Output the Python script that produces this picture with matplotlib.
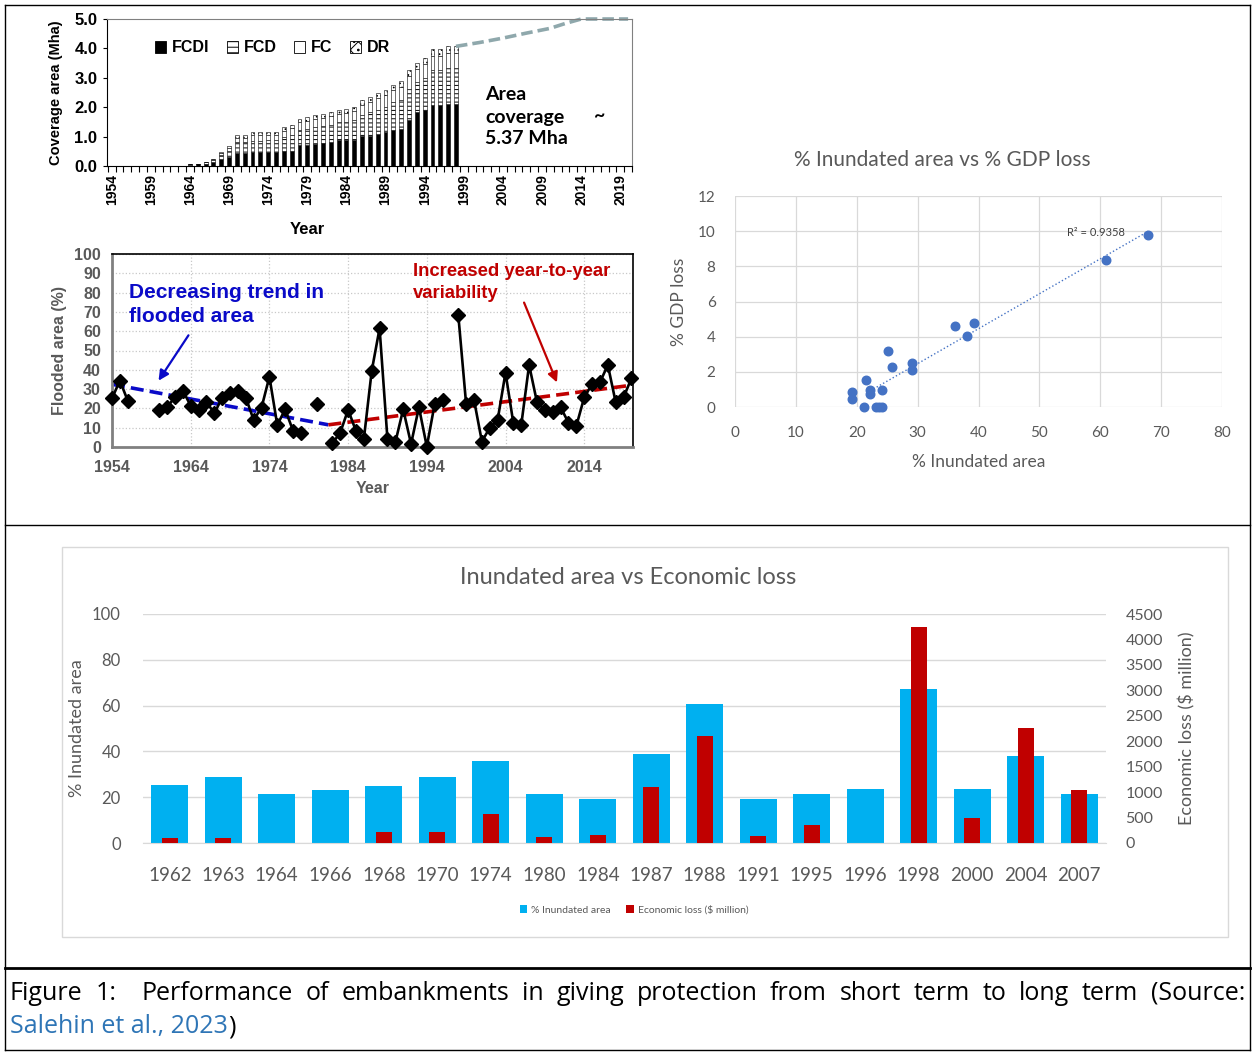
import numpy as np
import matplotlib
matplotlib.use("Agg")
import matplotlib.pyplot as plt
from matplotlib.lines import Line2D
from matplotlib.patches import Rectangle, Patch, FancyArrowPatch

W, H, DPI = 1255, 1054, 100
plt.rcParams['hatch.linewidth'] = 0.7

# ---------------- data ----------------
# Embankment coverage by project type (Mha)
cov_years = np.arange(1964, 1999)
fcdi = [0.04, 0.06, 0.08, 0.14, 0.25, 0.30, 0.45, 0.45, 0.46, 0.46, 0.47, 0.47, 0.50, 0.52, 0.72,
        0.72, 0.74, 0.77, 0.80, 0.88, 0.89, 0.89, 1.02, 1.02, 1.09, 1.17, 1.23, 1.25, 1.57, 1.85,
        1.91, 2.07, 2.07, 2.12, 2.11]
fcd = [0.02, 0.02, 0.04, 0.06, 0.12, 0.22, 0.35, 0.35, 0.40, 0.40, 0.41, 0.40, 0.48, 0.52, 0.52,
       0.55, 0.58, 0.58, 0.60, 0.60, 0.61, 0.66, 0.72, 0.80, 0.83, 0.85, 0.93, 1.00, 1.05, 1.02,
       1.10, 1.20, 1.20, 1.22, 1.24]
fc = [0, 0, 0, 0.04, 0.06, 0.10, 0.16, 0.16, 0.18, 0.18, 0.18, 0.18, 0.22, 0.24, 0.24,
      0.25, 0.27, 0.28, 0.29, 0.29, 0.30, 0.32, 0.35, 0.37, 0.38, 0.39, 0.41, 0.43, 0.43, 0.43,
      0.45, 0.47, 0.48, 0.49, 0.50]
dr = [0, 0, 0, 0, 0.03, 0.06, 0.10, 0.10, 0.10, 0.10, 0.11, 0.11, 0.12, 0.12, 0.12,
      0.13, 0.14, 0.14, 0.14, 0.14, 0.14, 0.15, 0.16, 0.17, 0.18, 0.18, 0.19, 0.20, 0.20, 0.20,
      0.22, 0.24, 0.24, 0.24, 0.24]
proj_years = [1998, 2001, 2004, 2007, 2010, 2012, 2014, 2020]
proj_area = [4.07, 4.20, 4.35, 4.52, 4.68, 4.85, 5.00, 5.00]
cov_label_years = list(range(1954, 2020, 5))

# Flooded area (%) per year, gaps where no record
flood_years = np.arange(1954, 2021)
flood_pct = np.array([
    25.2, 34.4, 24.0, None, None, None, 19.2, 20.5, 26.0, 29.2,
    21.4, 19.2, 23.5, 17.4, 25.6, 28.2, 29.2, 25.6, 14.0, 20.4,
    36.4, 11.4, 19.5, 8.5, 7.1, None, 22.1, None, 1.9, 7.4,
    19.3, 8.3, 4.1, 39.4, 61.5, 4.1, 2.4, 19.5, 1.6, 20.6,
    0.2, 22.3, 24.4, None, 68.4, 22.1, 24.4, 2.8, 10.0, 14.0,
    38.5, 12.3, 11.4, 42.5, 23.2, 19.2, 18.0, 20.6, 12.6, 10.9,
    25.7, 32.6, 33.5, 42.5, 23.2, 25.7, 35.6], dtype=float)
trend_dec_x = [1954, 1981.5]
trend_dec_y = [32.5, 11.5]
trend_inc_x = [1981.5, 2020]
trend_inc_y = [11.5, 32.0]

# % inundated area vs % GDP loss
inund_pts = [67.9, 60.9, 36.2, 39.2, 38.1, 25.1, 25.8, 29.1, 29.1, 21.6,
             24.2, 22.1, 22.1, 19.2, 19.2, 21.2, 23.2, 24.2, 23.6]
gdp_loss = [9.77, 8.34, 4.61, 4.80, 4.04, 3.20, 2.25, 2.51, 2.13, 1.52,
            0.99, 0.95, 0.76, 0.86, 0.48, 0.02, 0.0, 0.0, 0.02]

# Inundated area vs economic loss for flood events
events = ['1962', '1963', '1964', '1966', '1968', '1970', '1974', '1980', '1984',
          '1987', '1988', '1991', '1995', '1996', '1998', '2000', '2004', '2007']
inund_area = [25.5, 28.9, 21.2, 23.1, 25.1, 28.9, 35.8, 21.6, 19.3,
              39.0, 60.9, 19.3, 21.6, 23.6, 67.2, 23.6, 37.9, 21.2]
econ_loss = [100, 100, 0, 0, 215, 215, 574, 117, 150,
             1100, 2100, 130, 346, 0, 4240, 496, 2257, 1044]

# ---------------- helpers ----------------
fig = plt.figure(figsize=(W / DPI, H / DPI), dpi=DPI)
fig.patch.set_facecolor('white')


def frac(x0, y0, x1, y1):
    return [x0 / W, 1 - y1 / H, (x1 - x0) / W, (y1 - y0) / H]


def fline(x0, y0, x1, y1, lw=1.0, color='black'):
    fig.add_artist(Line2D([x0 / W, x1 / W], [1 - y0 / H, 1 - y1 / H],
                          transform=fig.transFigure, lw=lw, color=color))


def ftext(x, y, s, **kw):
    return fig.text(x / W, 1 - y / H, s, **kw)


ARIAL = 'Liberation Sans'
CAL = 'Lato'
GRAY = '#595959'

# page frame
fline(5, 5, 1250, 5)
fline(5, 5, 5, 1050)
fline(1250, 5, 1250, 1050)
fline(5, 1050, 1250, 1050)
fline(5, 525, 1250, 525)
fline(5, 968, 1250, 968, lw=2)
fig.add_artist(Rectangle((62 / W, 1 - 937 / H), (1228 - 62) / W, (937 - 547) / H,
                         transform=fig.transFigure, fill=False, edgecolor='#d9d9d9', lw=1))

# ---------------- coverage chart ----------------
ax1 = fig.add_axes(frac(107, 19, 632, 166))
bw = 0.5
base = np.zeros(len(cov_years))
ax1.bar(cov_years, fcdi, bw, color='black', edgecolor='black', lw=0.4)
base += np.array(fcdi)
ax1.bar(cov_years, fcd, bw, bottom=base, color='white', edgecolor='black', lw=0.4, hatch='----')
base += np.array(fcd)
ax1.bar(cov_years, fc, bw, bottom=base, color='white', edgecolor='black', lw=0.4)
base += np.array(fc)
ax1.bar(cov_years, dr, bw, bottom=base, color='white', edgecolor='black', lw=0.4, hatch='....')
ax1.plot(proj_years, proj_area, color='#8FA8AC', lw=2.6, dashes=(3.2, 1.4), clip_on=False)
ax1.set_xlim(1953.4, 2020.2)
ax1.set_ylim(0, 5)
ax1.set_xticks(np.arange(1953.5, 2020.6, 1.0))
ax1.set_xticklabels([])
ax1.tick_params(axis='x', which='major', length=4, width=0.8, direction='out')
ax1.set_xticks(cov_label_years, minor=True)
ax1.set_xticklabels([str(y) for y in cov_label_years], minor=True, rotation=90,
                    fontweight='bold', fontsize=10, family=ARIAL)
ax1.tick_params(axis='x', which='minor', length=0, pad=6)
ax1.set_yticks(np.arange(0, 5.01, 1))
ax1.set_yticklabels([f'{v:.1f}' for v in np.arange(0, 5.01, 1)], fontweight='bold',
                    fontsize=12, family=ARIAL)
ax1.tick_params(axis='y', length=3, width=0.8, pad=4)
for s in ('left', 'bottom'):
    ax1.spines[s].set_color('black')
for s in ('top', 'right'):
    ax1.spines[s].set_color('#808080')
ax1.set_ylabel('Coverage area (Mha)', fontweight='bold', fontsize=10.5, family=ARIAL, labelpad=8)
ftext(307, 230, 'Year', ha='center', va='center', fontweight='bold', fontsize=12, family=ARIAL)
handles = [Patch(facecolor='black', edgecolor='black', lw=0.6),
           Patch(facecolor='white', edgecolor='black', hatch='---', lw=0.6),
           Patch(facecolor='white', edgecolor='black', lw=0.6),
           Patch(facecolor='white', edgecolor='black', hatch='xx..', lw=0.6)]
ax1.legend(handles, ['FCDI', 'FCD', 'FC', 'DR'], ncol=4, frameon=False, loc='center left',
           bbox_to_anchor=((155 - 107) / 525, (166 - 48) / 147), borderaxespad=0, borderpad=0,
           handlelength=0.7, handleheight=0.7, handletextpad=0.35, columnspacing=1.1,
           prop={'family': ARIAL, 'weight': 'bold', 'size': 11.5})
for i, s in enumerate(['Area', 'coverage', '5.37 Mha']):
    ftext(485, 95 + 22 * i, s, ha='left', va='center', fontsize=14, fontweight='bold', family=CAL)
ftext(600, 116, '~', ha='center', va='center', fontsize=14, fontweight='bold', family=CAL)

# ---------------- flooded area chart ----------------
ax2 = fig.add_axes(frac(112, 254, 633, 447))
ax2.set_xlim(1954, 2020.2)
ax2.set_ylim(0, 100)
ax2.set_xticks(range(1954, 2021, 10))
ax2.set_yticks(range(0, 101, 10))
ax2.grid(True, ls=':', color='#c8c8c8', lw=0.9)
ax2.set_axisbelow(True)
ax2.plot(trend_dec_x, trend_dec_y, color='#0A0AC8', lw=2.6, dashes=(3.6, 1.7), clip_on=False, zorder=2)
ax2.plot(trend_inc_x, trend_inc_y, color='#C00000', lw=2.6, dashes=(3.6, 1.7), clip_on=False, zorder=2)
ax2.plot(flood_years, flood_pct, color='black', lw=1.9, marker='D', ms=7.5, zorder=3, clip_on=False)
ax2.tick_params(length=0, labelcolor=GRAY)
ax2.tick_params(axis='y', pad=8)
ax2.tick_params(axis='x', pad=9)
for lab in ax2.get_xticklabels() + ax2.get_yticklabels():
    lab.set_fontweight('bold'); lab.set_fontsize(11.5); lab.set_family(ARIAL)
for s in ('left', 'bottom'):
    ax2.spines[s].set_color('#808080'); ax2.spines[s].set_linewidth(2)
for s in ('top', 'right'):
    ax2.spines[s].set_color('black'); ax2.spines[s].set_linewidth(1.2)
ax2.set_ylabel('Flooded area (%)', color=GRAY, fontweight='bold', fontsize=11.5, family=ARIAL, labelpad=5)
ax2.set_xlabel('Year', color=GRAY, fontweight='bold', fontsize=11.5, family=ARIAL, labelpad=5)
ftext(129, 292, 'Decreasing trend in', color='#0A0AC8', fontweight='bold', fontsize=15,
      family=ARIAL, va='center', ha='left')
ftext(129, 317, 'flooded area', color='#0A0AC8', fontweight='bold', fontsize=15,
      family=ARIAL, va='center', ha='left')
ftext(413, 272, 'Increased year-to-year', color='#C00000', fontweight='bold', fontsize=13.3,
      family=ARIAL, va='center', ha='left')
ftext(413, 294, 'variability', color='#C00000', fontweight='bold', fontsize=13.3,
      family=ARIAL, va='center', ha='left')
fig.add_artist(FancyArrowPatch(
    (190 / W, 1 - 333 / H), (157 / W, 1 - 383 / H), transform=fig.transFigure,
    arrowstyle='-|>,head_length=6,head_width=3', color='#0A0AC8', lw=1.6))
fig.add_artist(FancyArrowPatch(
    (523 / W, 1 - 300 / H), (558 / W, 1 - 385 / H), transform=fig.transFigure,
    arrowstyle='-|>,head_length=6,head_width=3', color='#C00000', lw=1.6))

# ---------------- scatter chart ----------------
ax3 = fig.add_axes(frac(735, 196, 1222, 407))
ax3.set_xlim(0, 80)
ax3.set_ylim(0, 12)
ax3.set_xticks(range(0, 81, 10))
ax3.set_yticks(range(0, 13, 2))
ax3.grid(True, color='#d9d9d9', lw=0.9)
ax3.set_axisbelow(True)
for s in ax3.spines.values():
    s.set_visible(False)
xs = np.array(inund_pts); ys = np.array(gdp_loss)
k, b = np.polyfit(xs, ys, 1)
xf = np.array([xs.min() + 2.5, xs.max()])
ax3.plot(xf, k * xf + b, ls=':', color='#4472C4', lw=1.0, zorder=2)
ax3.scatter(xs, ys, s=38, color='#4472C4', zorder=3, clip_on=False)
ax3.tick_params(length=0, labelcolor=GRAY, labelsize=11, pad=14)
for lab in ax3.get_xticklabels() + ax3.get_yticklabels():
    lab.set_family(CAL)
ax3.set_xlabel('% Inundated area', color=GRAY, fontsize=12.5, family=CAL, labelpad=10)
ax3.set_ylabel('% GDP loss', color=GRAY, fontsize=12.5, family=CAL, labelpad=8)
ftext(942, 160, '% Inundated area vs % GDP loss', ha='center', va='center', color=GRAY,
      fontsize=15, family=CAL)
ax3.text(64, 9.9, 'R² = 0.9358', ha='right', va='center', fontsize=8, color='#404040', family=CAL)

# ---------------- inundated area vs economic loss ----------------
ax4 = fig.add_axes(frac(143, 614, 1106, 843))
xi = np.arange(len(events))
b1 = ax4.bar(xi, inund_area, 0.69, color='#00B0F0', zorder=2)
ax4.set_xlim(-0.5, len(events) - 0.5)
ax4.set_ylim(0, 100)
ax4.set_yticks(range(0, 101, 20))
ax4.set_xticks(xi)
ax4.set_xticklabels(events)
ax4.grid(axis='y', color='#d9d9d9', lw=1)
ax4.set_axisbelow(True)
ax4r = ax4.twinx()
b2 = ax4r.bar(xi, econ_loss, 0.3, color='#C00000', zorder=3)
ax4r.set_ylim(0, 4500)
ax4r.set_yticks(range(0, 4501, 500))
for a in (ax4, ax4r):
    for s in a.spines.values():
        s.set_visible(False)
    a.tick_params(length=0, labelcolor=GRAY)
ax4.spines['bottom'].set_visible(True)
ax4.spines['bottom'].set_color('#d9d9d9')
ax4.tick_params(axis='x', labelsize=13.5, pad=17)
ax4.tick_params(axis='y', labelsize=12, pad=16)
ax4r.tick_params(axis='y', labelsize=11.5, pad=14)
for lab in ax4.get_xticklabels() + ax4.get_yticklabels() + ax4r.get_yticklabels():
    lab.set_family(CAL)
ax4.set_ylabel('% Inundated area', color=GRAY, fontsize=13, family=CAL)
ax4.yaxis.set_label_coords((85 - 143) / 963, 0.5)
ax4r.set_ylabel('Economic loss ($ million)', color=GRAY, fontsize=13, family=CAL)
ax4r.yaxis.set_label_coords((1178 - 143) / 963, 0.5)
ftext(628, 578, 'Inundated area vs Economic loss', ha='center', va='center', color=GRAY,
      fontsize=17, family=CAL)
fig.legend([b1, b2], ['% Inundated area', 'Economic loss ($ million)'], loc='center',
           bbox_to_anchor=(634 / W, 1 - 910 / H), ncol=2, frameon=False,
           handlelength=0.7, handleheight=0.7, handletextpad=0.4, columnspacing=1.5,
           prop={'family': CAL, 'size': 7.5}, labelcolor=GRAY)

# ---------------- caption ----------------
fig.canvas.draw()
renderer = fig.canvas.get_renderer()
CAP = 'Open Sans'
cap1 = "Figure 1:  Performance of embankments in giving protection from short term to long term (Source:"
words = cap1.split(' ')
objs = [ftext(0, 993, w, fontsize=18, family=CAP, va='center', ha='left') for w in words]
widths = [o.get_window_extent(renderer).width if w else 0.0 for o, w in zip(objs, words)]
gap = (1235 - sum(widths)) / (len(words) - 1)
xpos = 10.0
for o, wd in zip(objs, widths):
    o.set_x(xpos / W)
    xpos += wd + gap
t2 = ftext(10, 1027, 'Salehin et al., 2023', fontsize=18, family=CAP, va='center', ha='left',
           color='#2E75B6')
w2 = t2.get_window_extent(renderer).width
ftext(10 + w2, 1027, ')', fontsize=18, family=CAP, va='center', ha='left')

fig.savefig('out.png', dpi=DPI, facecolor='white')
